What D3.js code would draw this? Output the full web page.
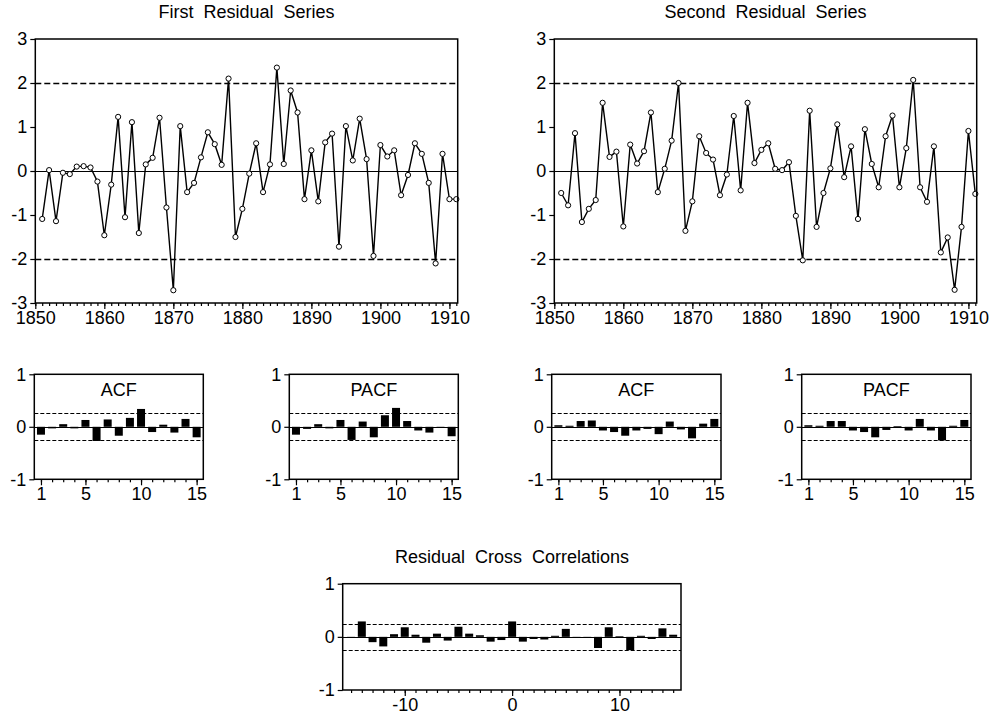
<!DOCTYPE html>
<html>
<head>
<meta charset="utf-8">
<script src="https://cdn.jsdelivr.net/npm/d3@7"></script>
<style>
  body { margin: 0; background: #fff; }
  svg text { font-family: "Liberation Sans", Arial, sans-serif; fill: #000; }
</style>
</head>
<body>
<svg id="chart" width="993" height="719"></svg>
<script>
// observations 1851..1911
const years = d3.range(1851, 1912);

const firstResid = [
  -1.09, 0.02, -1.14, -0.04, -0.07, 0.10, 0.11, 0.08, -0.24, -1.46,
  -0.31, 1.23, -1.05, 1.11, -1.41, 0.15, 0.30, 1.21, -0.83, -2.71,
  1.02, -0.48, -0.27, 0.31, 0.88, 0.61, 0.14, 2.10, -1.50, -0.86,
  -0.06, 0.63, -0.48, 0.15, 2.35, 0.16, 1.83, 1.33, -0.64, 0.47,
  -0.69, 0.65, 0.85, -1.72, 1.02, 0.24, 1.19, 0.27, -1.93, 0.59,
  0.33, 0.47, -0.55, -0.09, 0.63, 0.39, -0.27, -2.10, 0.39, -0.64,
  -0.64
];

const secondResid = [
  -0.50, -0.78, 0.86, -1.16, -0.86, -0.66, 1.55, 0.32, 0.44, -1.26,
  0.60, 0.17, 0.45, 1.33, -0.48, 0.05, 0.69, 2.00, -1.36, -0.69,
  0.79, 0.41, 0.26, -0.55, -0.08, 1.25, -0.44, 1.55, 0.18, 0.48,
  0.63, 0.05, 0.02, 0.20, -1.02, -2.03, 1.37, -1.27, -0.50, 0.06,
  1.06, -0.14, 0.56, -1.09, 0.95, 0.16, -0.37, 0.79, 1.26, -0.37,
  0.52, 2.07, -0.37, -0.70, 0.56, -1.85, -1.51, -2.70, -1.27, 0.91,
  -0.52
];

const lags = d3.range(1, 16);
const acf1  = [-0.15, -0.03, 0.05, -0.03, 0.13, -0.27, 0.14, -0.17, 0.17, 0.34, -0.10, 0.04, -0.11, 0.15, -0.20];
const pacf1 = [-0.15, -0.04, 0.05, -0.03, 0.13, -0.25, 0.10, -0.20, 0.22, 0.36, 0.11, -0.07, -0.11, -0.01, -0.18];
const acf2  = [0.03, 0.02, 0.11, 0.12, -0.07, -0.10, -0.17, -0.07, -0.04, -0.14, 0.10, -0.05, -0.22, 0.06, 0.15];
const pacf2 = [0.03, 0.02, 0.11, 0.11, -0.07, -0.10, -0.20, -0.06, 0.01, -0.07, 0.15, -0.07, -0.26, 0.02, 0.13];

const crossLags = d3.range(-15, 16);
const crossCorr = [
  -0.01, 0.29, -0.10, -0.18, 0.05, 0.18, 0.04, -0.11, 0.06, -0.07,
  0.19, 0.06, 0.03, -0.09, -0.06, 0.29, -0.09, -0.04, -0.05, 0.02,
  0.15, -0.01, 0.00, -0.21, 0.18, 0.01, -0.25, 0.02, -0.04, 0.16,
  0.04
];

const residBand = 2;
const corrBand = 0.26;
const crossBand = 0.25;

const svg = d3.select("#chart");
const fontSize = 18;
const plain = d => String(d).replace("\u2212", "-");
const crisp = v => Math.round(v) + 0.5;

function frame(g, x0, x1, y0, y1) {
  g.append("rect")
    .attr("x", x0).attr("y", y0)
    .attr("width", x1 - x0).attr("height", y1 - y0)
    .attr("fill", "none").attr("stroke", "#000").attr("stroke-width", 1.5);
}

function hline(g, x, y, v, dash, w) {
  g.append("line")
    .attr("x1", x.range()[0]).attr("x2", x.range()[1])
    .attr("y1", crisp(y(v))).attr("y2", crisp(y(v)))
    .attr("stroke", "#000").attr("stroke-width", w || 1)
    .attr("stroke-dasharray", dash || null);
}

function yAxis(g, y, ticks, x0) {
  const ax = g.append("g")
    .attr("transform", `translate(${x0},0)`)
    .call(d3.axisLeft(y).tickValues(ticks).tickSize(5).tickPadding(3).tickFormat(plain));
  ax.select(".domain").remove();
  ax.selectAll("line").attr("stroke-width", 1.2);
  ax.selectAll("text").style("font-size", fontSize + "px");
}

function xAxis(g, x, minor, major, y0) {
  const a = g.append("g").attr("transform", `translate(0,${y0})`);
  const mi = a.append("g").call(d3.axisBottom(x).tickValues(minor).tickSize(3).tickFormat(""));
  mi.select(".domain").remove();
  const ma = a.append("g").call(d3.axisBottom(x).tickValues(major).tickSize(6).tickPadding(2).tickFormat(plain));
  ma.select(".domain").remove();
  a.selectAll("line").attr("stroke-width", 1.2);
  a.selectAll("text").style("font-size", fontSize + "px");
}

function title(text, cx, y) {
  svg.append("text")
    .attr("x", cx).attr("y", y)
    .attr("text-anchor", "middle")
    .style("font-size", fontSize + "px")
    .style("word-spacing", "5px")
    .text(text);
}

function residChart(values, x0, x1, label) {
  const y0 = 39, y1 = 303;
  const g = svg.append("g");
  const x = d3.scaleLinear().domain([1850, 1911.2]).range([x0, x1]);
  const y = d3.scaleLinear().domain([-3, 3]).range([y1, y0]);

  hline(g, x, y, 0, null, 1);
  hline(g, x, y, residBand, "6,3", 1.3);
  hline(g, x, y, -residBand, "6,3", 1.3);

  const pts = years.map((yr, i) => ({ yr, v: values[i] }));
  g.append("path")
    .datum(pts)
    .attr("fill", "none").attr("stroke", "#000").attr("stroke-width", 1.4)
    .attr("d", d3.line().x(d => x(d.yr)).y(d => y(d.v)));
  g.selectAll("circle").data(pts).join("circle")
    .attr("cx", d => x(d.yr)).attr("cy", d => y(d.v))
    .attr("r", 2.6)
    .attr("fill", "#fff").attr("stroke", "#000").attr("stroke-width", 1);

  frame(g, x0, x1, y0, y1);
  yAxis(g, y, [-3, -2, -1, 0, 1, 2, 3], x0);
  xAxis(g, x, d3.range(1850, 1912), [1850, 1860, 1870, 1880, 1890, 1900, 1910], y1);
  title(label, (x0 + x1) / 2, 18);
}

function corrChart(xs, values, band, x0, x1, y0, y1, dom, major, label) {
  const g = svg.append("g");
  const x = d3.scaleLinear().domain(dom).range([x0, x1]);
  const y = d3.scaleLinear().domain([-1, 1]).range([y1, y0]);
  const bw = 8;

  hline(g, x, y, band, "4,2", 1);
  hline(g, x, y, -band, "4,2", 1);

  g.selectAll("rect.bar").data(values).join("rect")
    .attr("class", "bar")
    .attr("x", (d, i) => x(xs[i]) - bw / 2)
    .attr("width", bw)
    .attr("y", d => y(Math.max(0, d)))
    .attr("height", d => Math.max(0.8, Math.abs(y(d) - y(0))))
    .attr("fill", "#000");

  hline(g, x, y, 0, null, 1.2);
  frame(g, x0, x1, y0, y1);
  yAxis(g, y, [-1, 0, 1], x0);
  xAxis(g, x, xs, major, y1);
  if (label) {
    g.append("text")
      .attr("x", (x0 + x1) / 2).attr("y", 396)
      .attr("text-anchor", "middle")
      .style("font-size", fontSize + "px")
      .text(label);
  }
}

residChart(firstResid, 35.3, 457.7, "First Residual Series");
residChart(secondResid, 554.3, 976.7, "Second Residual Series");

const ly0 = 374.3, ly1 = 479.3;
const lagDom = [0.4, 15.6];
corrChart(lags, acf1, corrBand, 34.3, 203.3, ly0, ly1, lagDom, [1, 5, 10, 15], "ACF");
corrChart(lags, pacf1, corrBand, 289.3, 458.3, ly0, ly1, lagDom, [1, 5, 10, 15], "PACF");
corrChart(lags, acf2, corrBand, 551.7, 721, ly0, ly1, lagDom, [1, 5, 10, 15], "ACF");
corrChart(lags, pacf2, corrBand, 801.7, 971, ly0, ly1, lagDom, [1, 5, 10, 15], "PACF");

corrChart(crossLags, crossCorr, crossBand, 342.7, 681, 583.7, 690, [-15.78, 15.73], [-10, 0, 10], null);
title("Residual Cross Correlations", 512, 563);
</script>
</body>
</html>
